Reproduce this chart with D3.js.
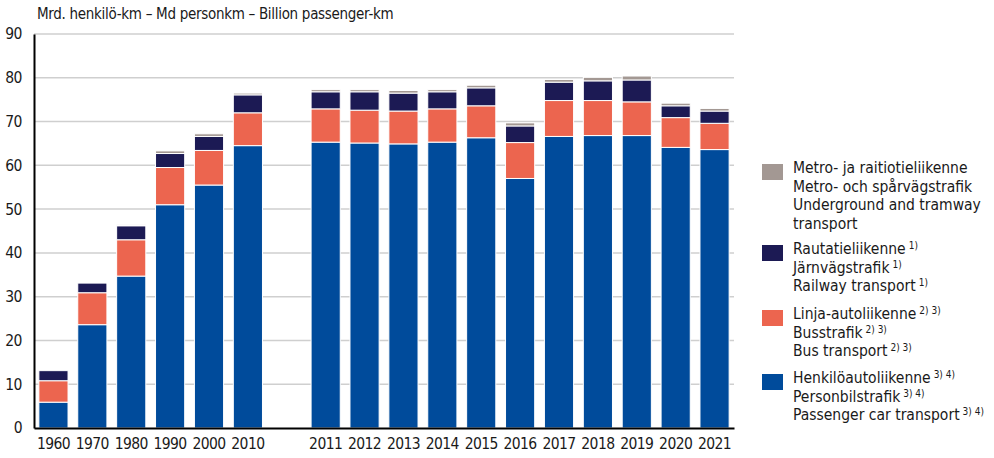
<!DOCTYPE html>
<html>
<head>
<meta charset="utf-8">
<script src="https://cdn.jsdelivr.net/npm/d3@7"></script>
<style>
  body { margin: 0; background: #fff; }
  svg text { font-family: "Liberation Sans Narrow", "DejaVu Sans Condensed", sans-serif; fill: #1a1a1a; }
</style>
</head>
<body>
<svg id="chart" width="994" height="458"></svg>
<script>
// Data
const years = ['1960','1970','1980','1990','2000','2010','2011','2012','2013','2014','2015','2016','2017','2018','2019','2020','2021'];
const car   = [5.9, 23.6, 34.7, 51.0, 55.5, 64.5, 65.3, 65.1, 64.9, 65.3, 66.3, 57.0, 66.6, 66.8, 66.8, 64.1, 63.6];
const bus   = [4.9, 7.3, 8.3, 8.5, 7.9, 7.5, 7.6, 7.5, 7.5, 7.6, 7.3, 8.2, 8.2, 8.0, 7.7, 6.8, 6.0];
const rail  = [2.3, 2.2, 3.2, 3.2, 3.2, 4.1, 3.9, 4.2, 4.1, 3.9, 4.1, 3.8, 4.2, 4.5, 5.0, 2.7, 2.8];
const metro = [0.0, 0.0, 0.2, 0.6, 0.6, 0.4, 0.5, 0.5, 0.6, 0.5, 0.6, 0.7, 0.6, 0.8, 0.9, 0.6, 0.6];
const yTicks = [0, 10, 20, 30, 40, 50, 60, 70, 80, 90];
const title = 'Mrd. henkilö-km \u2013 Md personkm \u2013 Billion passenger-km';

const seriesKeys = ['car', 'bus', 'rail', 'metro'];
const colors = {car: '#004b9b', bus: '#ec654f', rail: '#1c1a54', metro: '#a39893'};

const legendItems = [
  {key: 'metro', lines: [['Metro- ja raitiotieliikenne', ''], ['Metro- och spårvägstrafik', ''], ['Underground and tramway', ''], ['transport', '']]},
  {key: 'rail', lines: [['Rautatieliikenne', '1)'], ['Järnvägstrafik', '1)'], ['Railway transport', '1)']]},
  {key: 'bus', lines: [['Linja-autoliikenne', '2) 3)'], ['Busstrafik', '2) 3)'], ['Bus transport', '2) 3)']]},
  {key: 'car', lines: [['Henkilöautoliikenne', '3) 4)'], ['Personbilstrafik', '3) 4)'], ['Passenger car transport', '3) 4)']]}
];

const svg = d3.select('#chart');
const margin = {top: 34, left: 34};
const width = 700, height = 394;
const g = svg.append('g').attr('transform', `translate(${margin.left},${margin.top})`);

// gap slot between 2010 and 2011
const domain = [...years.slice(0, 6), 'gap', ...years.slice(6)];
const x = d3.scaleBand().domain(domain).range([0, width]).paddingInner(0.25).paddingOuter(0.125);
const y = d3.scaleLinear().domain([0, 90]).range([height, 0]);

const rows = years.map((yr, i) => ({year: yr, car: car[i], bus: bus[i], rail: rail[i], metro: metro[i]}));
const stacked = d3.stack().keys(seriesKeys)(rows);

// grid
g.append('g')
  .selectAll('line')
  .data(yTicks.filter(d => d > 0))
  .enter().append('line')
  .attr('x1', 0).attr('x2', width)
  .attr('y1', d => y(d)).attr('y2', d => y(d))
  .attr('stroke', '#cfcfcf').attr('stroke-width', 1.5);

// bars
g.selectAll('.layer')
  .data(stacked)
  .enter().append('g')
  .attr('fill', d => colors[d.key])
  .selectAll('rect')
  .data(d => d.filter(p => p[1] - p[0] > 0))
  .enter().append('rect')
  .attr('x', d => x(d.data.year))
  .attr('width', x.bandwidth())
  .attr('y', d => y(d[1]))
  .attr('height', d => y(d[0]) - y(d[1]))
  .attr('stroke', '#fff')
  .attr('stroke-width', 1);

// y axis
const yAxis = g.append('g')
  .call(d3.axisLeft(y).tickValues(yTicks).tickSize(0).tickPadding(12));
yAxis.select('.domain').attr('stroke', '#000').attr('stroke-width', 2);
yAxis.selectAll('text').style('font-size', '15.5px').style('letter-spacing', '-0.5px').attr('fill', '#1a1a1a');

// x axis
const xAxis = g.append('g')
  .attr('transform', `translate(0,${height})`)
  .call(d3.axisBottom(x).tickValues(years).tickSize(0).tickPadding(10));
xAxis.select('.domain').attr('stroke', '#000').attr('stroke-width', 2);
xAxis.selectAll('text').style('font-size', '15.5px').style('letter-spacing', '-0.6px').attr('fill', '#1a1a1a');

// title
svg.append('text')
  .attr('x', 37).attr('y', 19)
  .style('font-size', '15px')
  .style('letter-spacing', '-0.3px')
  .text(title);

// legend
const legend = svg.append('g').attr('transform', 'translate(762,0)');
const groupTops = [167, 248, 313, 377];
legendItems.forEach((item, i) => {
  const top = groupTops[i];
  legend.append('rect')
    .attr('x', 0).attr('y', top - 3)
    .attr('width', 21).attr('height', 16)
    .attr('fill', colors[item.key]);
  item.lines.forEach((ln, j) => {
    const t = legend.append('text')
      .attr('x', 31).attr('y', top + 6 + j * 18.5)
      .style('font-size', '15.5px');
    t.append('tspan').text(ln[0]);
    if (ln[1]) {
      t.append('tspan').attr('dx', 3).attr('dy', -5).style('font-size', '10px').text(ln[1]);
    }
  });
});
</script>
</body>
</html>
